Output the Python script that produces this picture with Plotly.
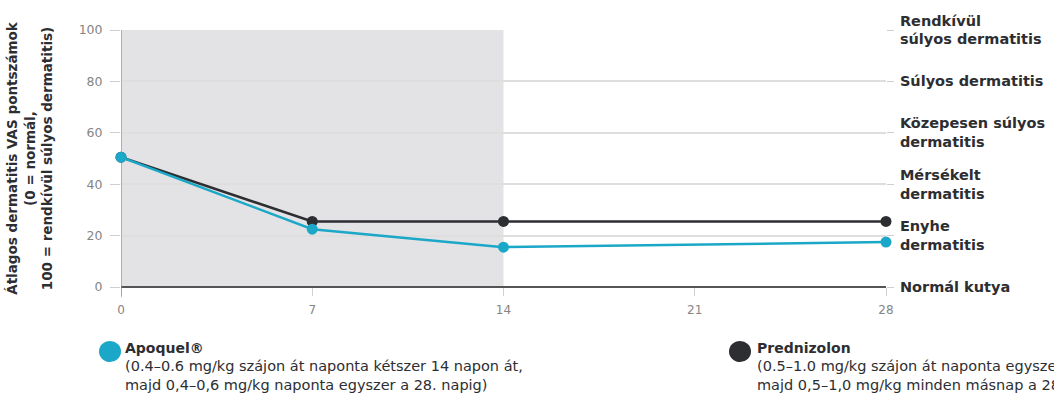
import plotly.graph_objects as go

days = [0, 7, 14, 28]
apoquel = [50.5, 22.5, 15.5, 17.5]
prednizolon = [50.5, 25.5, 25.5, 25.5]
x_ticks = [0, 7, 14, 21, 28]
y_ticks = [0, 20, 40, 60, 80, 100]
severity_vals = [100, 80, 60, 40, 20, 0]
severity_labels = ["Rendkívül<br>súlyos dermatitis", "Súlyos dermatitis",
                   "Közepesen súlyos<br>dermatitis", "Mérsékelt<br>dermatitis",
                   "Enyhe<br>dermatitis", "Normál kutya"]
shade_range = [0, 14]

BLUE = "#1ba8c8"
DARK = "#2d2e32"
FONT = "DejaVu Sans"

fig = go.Figure()
fig.add_trace(go.Scatter(x=days, y=prednizolon, mode="lines+markers",
                         line=dict(color=DARK, width=2.5),
                         marker=dict(size=11, color=DARK), cliponaxis=False,
                         showlegend=False))
fig.add_trace(go.Scatter(x=days, y=apoquel, mode="lines+markers",
                         line=dict(color=BLUE, width=2.5),
                         marker=dict(size=11, color=BLUE), cliponaxis=False,
                         showlegend=False))
# invisible trace for right axis
fig.add_trace(go.Scatter(x=[0], y=[0], yaxis="y2", mode="markers",
                         marker=dict(opacity=0), showlegend=False, hoverinfo="skip"))

fig.add_shape(type="rect", xref="x", yref="y", x0=shade_range[0], x1=shade_range[1],
              y0=0, y1=100, fillcolor="#e3e3e5", line=dict(width=0), layer="below")

fig.update_layout(
    width=1054, height=397,
    margin=dict(l=121, r=168, t=30, b=110),
    paper_bgcolor="white", plot_bgcolor="white",
    font=dict(family=FONT, color="#2d2e32"),
    xaxis=dict(range=[0, 28], tickvals=x_ticks, showgrid=False,
               zeroline=False, showline=False, automargin=False,
               ticks="outside", ticklen=8, tickcolor="#d0d0d0", tickwidth=1,
               ticklabelstandoff=4,
               tickfont=dict(size=12, color="#858585")),
    yaxis=dict(range=[0, 100], tickvals=y_ticks, showgrid=True,
               gridcolor="#dedede", gridwidth=1.5,
               zeroline=True, zerolinecolor="#555555", zerolinewidth=1.5,
               showline=False, automargin=False,
               ticks="outside", ticklen=10, tickcolor="#cfcfcf",
               ticklabelstandoff=5,
               tickfont=dict(size=12.5, color="#858585"),
               title=dict(text="<b>Átlagos dermatitis VAS pontszámok<br>(0 = normál,<br>100 = rendkívül súlyos dermatitis)</b>",
                          font=dict(size=13.5, color="#2d2e32"), standoff=22)),
    yaxis2=dict(range=[0, 100], overlaying="y", side="right", automargin=False,
                tickvals=severity_vals, ticktext=[f"<b>{t}</b>" for t in severity_labels],
                showgrid=False, zeroline=False, showline=False,
                ticks="outside", ticklen=7, tickcolor="#cfcfcf",
                ticklabelstandoff=3,
                tickfont=dict(size=14.5, color="#2d2e32")),
)

# vertical left axis line (extends slightly below)
fig.add_shape(type="line", xref="x", yref="paper", x0=0, x1=0, y0=-0.04, y1=1,
              line=dict(color="#8a8a8a", width=1.2))

def px_x(x):
    return (x - 121) / 765

def px_y(y):
    return (287 - y) / 257

# custom legend
fig.add_shape(type="circle", xref="paper", yref="paper",
              x0=px_x(99), x1=px_x(121), y0=px_y(362), y1=px_y(341),
              fillcolor=BLUE, line=dict(width=0))
fig.add_shape(type="circle", xref="paper", yref="paper",
              x0=px_x(729), x1=px_x(751), y0=px_y(362), y1=px_y(341),
              fillcolor=DARK, line=dict(width=0))

fig.add_annotation(xref="paper", yref="paper", x=px_x(123), y=px_y(348),
                   xanchor="left", yanchor="middle", showarrow=False, align="left",
                   text="<b>Apoquel®</b>", font=dict(size=14, color=DARK))
fig.add_annotation(xref="paper", yref="paper", x=px_x(123), y=px_y(375),
                   xanchor="left", yanchor="middle", showarrow=False, align="left",
                   text="(0.4–0.6 mg/kg szájon át naponta kétszer 14 napon át,<br>majd 0,4–0,6 mg/kg naponta egyszer a 28. napig)",
                   font=dict(size=14.5, color=DARK))
fig.add_annotation(xref="paper", yref="paper", x=px_x(755), y=px_y(348),
                   xanchor="left", yanchor="middle", showarrow=False, align="left",
                   text="<b>Prednizolon</b>", font=dict(size=14, color=DARK))
fig.add_annotation(xref="paper", yref="paper", x=px_x(755), y=px_y(375),
                   xanchor="left", yanchor="middle", showarrow=False, align="left",
                   text="(0.5–1.0 mg/kg szájon át naponta egyszer 14 napon át,<br>majd 0,5–1,0 mg/kg minden másnap a 28. napig)",
                   font=dict(size=14.5, color=DARK))

fig.write_html("out.html")
